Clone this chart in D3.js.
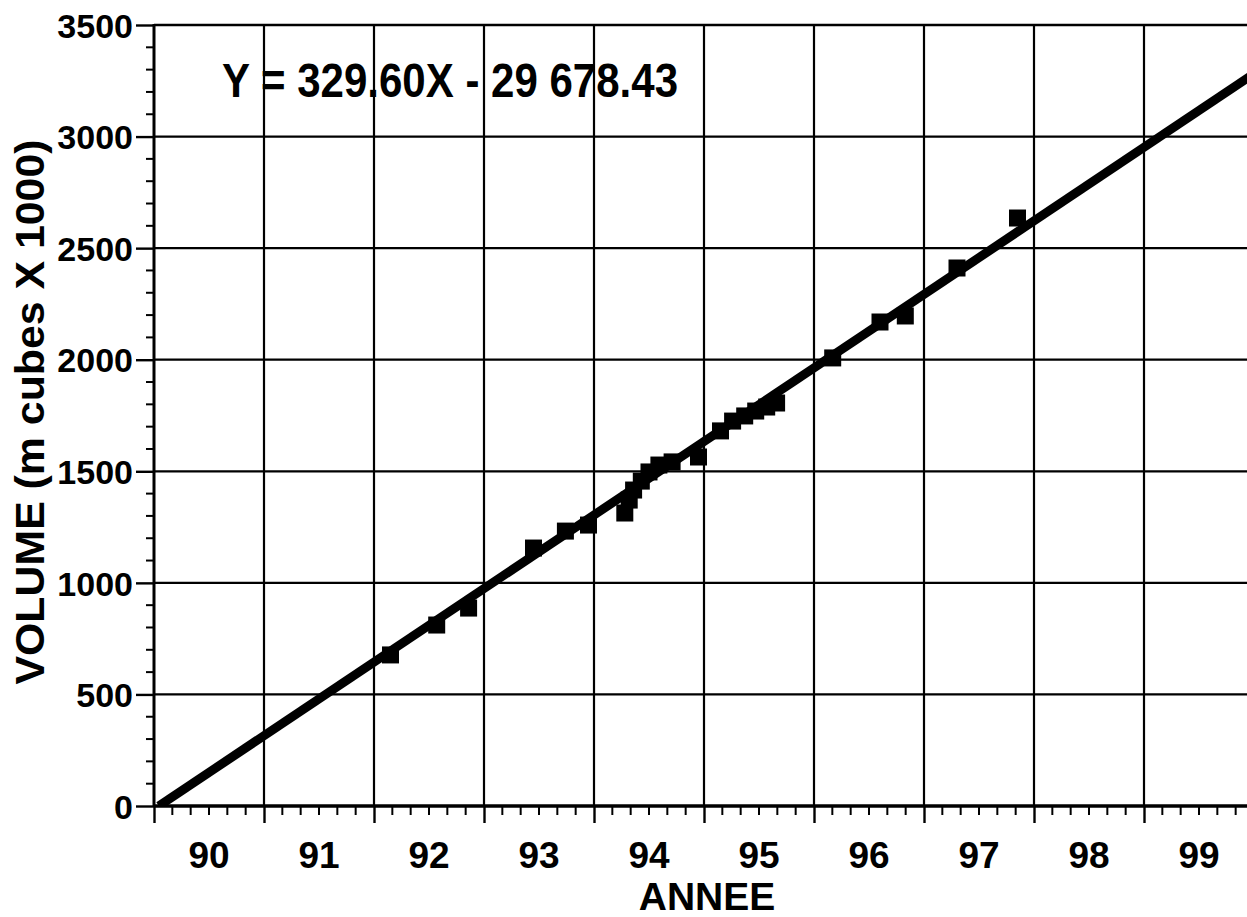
<!DOCTYPE html>
<html>
<head>
<meta charset="utf-8">
<script src="https://cdn.jsdelivr.net/npm/d3@7"></script>
<style>
  html, body { margin: 0; padding: 0; background: #fff; }
  svg { display: block; }
  text { font-family: "Liberation Sans", Arial, Helvetica, sans-serif; font-weight: bold; fill: #000; }
</style>
</head>
<body>
<svg id="chart" width="1247" height="917"></svg>
<script>
// Measured volumes (thousands of m³) by decimal year
const years = [92.15, 92.57, 92.86, 93.45, 93.74, 93.95, 94.28, 94.32, 94.36, 94.43,
               94.50, 94.59, 94.71, 94.95, 95.15, 95.26, 95.37, 95.47, 95.57, 95.66,
               96.17, 96.60, 96.83, 97.30, 97.85];
const volumes = [677, 811, 887, 1156, 1232, 1259, 1313, 1371, 1416, 1456,
                 1497, 1528, 1542, 1564, 1681, 1725, 1748, 1770, 1788, 1806,
                 2008, 2169, 2196, 2411, 2635];

// Linear fit shown in the chart
const slope = 329.60;
const intercept = -29678.43;
const equationLabel = "Y = 329.60X - 29 678.43";

// Axis ticks and labels
const yTicks = [0, 500, 1000, 1500, 2000, 2500, 3000, 3500];
const yearLabels = ["90", "91", "92", "93", "94", "95", "96", "97", "98", "99"];
const xTitle = "ANNEE";
const yTitle = "VOLUME (m cubes X 1000)";

const svg = d3.select("#chart");
const plotLeft = 154, plotRight = 1254, plotTop = 25, plotBottom = 806;

const x = d3.scaleLinear().domain([90, 100]).range([plotLeft, plotRight]);
const y = d3.scaleLinear().domain([0, 3500]).range([plotBottom, plotTop]);

// Grid
const grid = svg.append("g").attr("stroke", "#000").attr("stroke-width", 2.2);
grid.selectAll("line.v").data(d3.range(91, 100)).join("line")
  .attr("class", "v")
  .attr("x1", d => x(d)).attr("x2", d => x(d))
  .attr("y1", plotTop).attr("y2", plotBottom);
grid.selectAll("line.h").data(yTicks.filter(d => d > 0)).join("line")
  .attr("class", "h")
  .attr("x1", plotLeft).attr("x2", plotRight)
  .attr("y1", d => y(d)).attr("y2", d => y(d));

// Y axis with major and minor ticks
const yAxis = svg.append("g").attr("transform", `translate(${plotLeft},0)`);
yAxis.call(d3.axisLeft(y).tickValues(yTicks).tickSize(18).tickPadding(3).tickFormat(d3.format("d")));
yAxis.select(".domain").remove();
yAxis.selectAll(".tick line").attr("stroke", "#000").attr("stroke-width", 2.4);
yAxis.selectAll(".tick text")
  .attr("fill", "#000")
  .style("font-size", "34px")
  .attr("dy", "0.36em");
const yMinor = d3.range(0, 3500, 100).filter(d => d % 500 !== 0);
svg.append("g").selectAll("line").data(yMinor).join("line")
  .attr("x1", plotLeft - 8).attr("x2", plotLeft)
  .attr("y1", d => y(d)).attr("y2", d => y(d))
  .attr("stroke", "#000").attr("stroke-width", 2);
svg.append("line")
  .attr("x1", plotLeft).attr("x2", plotLeft).attr("y1", plotTop - 1).attr("y2", plotBottom + 1)
  .attr("stroke", "#000").attr("stroke-width", 3);

// X axis with year ticks, bimonthly minor ticks and centred year labels
const xAxis = svg.append("g").attr("transform", `translate(0,${plotBottom})`);
xAxis.call(d3.axisBottom(x).tickValues(d3.range(90, 101)).tickSize(17).tickFormat(""));
xAxis.select(".domain").remove();
xAxis.selectAll(".tick line").attr("stroke", "#000").attr("stroke-width", 2.4);
const xMinor = d3.range(90, 100, 1 / 6).filter(d => Math.abs(d - Math.round(d)) > 1e-6);
svg.append("g").selectAll("line").data(xMinor).join("line")
  .attr("x1", d => x(d)).attr("x2", d => x(d))
  .attr("y1", plotBottom).attr("y2", plotBottom + 9)
  .attr("stroke", "#000").attr("stroke-width", 2);
svg.append("line")
  .attr("x1", plotLeft).attr("x2", plotRight).attr("y1", plotBottom).attr("y2", plotBottom)
  .attr("stroke", "#000").attr("stroke-width", 3.5);
svg.append("line")
  .attr("x1", plotLeft).attr("x2", plotRight).attr("y1", plotTop).attr("y2", plotTop)
  .attr("stroke", "#000").attr("stroke-width", 2.4);

svg.append("g").selectAll("text").data(yearLabels).join("text")
  .attr("x", d => x(+d + 0.5))
  .attr("y", 868)
  .attr("text-anchor", "middle")
  .style("font-size", "37px")
  .text(d => d);

// Axis titles
svg.append("text")
  .attr("x", 707).attr("y", 910)
  .attr("text-anchor", "middle")
  .style("font-size", "39px")
  .text(xTitle);
svg.append("text")
  .attr("transform", "translate(44,412) rotate(-90)")
  .attr("text-anchor", "middle")
  .attr("textLength", 545)
  .attr("lengthAdjust", "spacingAndGlyphs")
  .style("font-size", "40px")
  .text(yTitle);

// Regression line, clipped to the plot area
svg.append("clipPath").attr("id", "plotClip")
  .append("rect").attr("x", plotLeft).attr("y", plotTop)
  .attr("width", plotRight - plotLeft).attr("height", plotBottom - plotTop);
const x0 = -intercept / slope;
const fitLine = [x0, 100].map(v => [v, slope * v + intercept]);
svg.append("path")
  .datum(fitLine)
  .attr("clip-path", "url(#plotClip)")
  .attr("fill", "none")
  .attr("stroke", "#000")
  .attr("stroke-width", 9)
  .attr("d", d3.line().x(d => x(d[0])).y(d => y(d[1])));

// Observations as filled squares
const size = 17;
svg.append("g").selectAll("rect").data(years.map((v, i) => [v, volumes[i]])).join("rect")
  .attr("x", d => x(d[0]) - size / 2)
  .attr("y", d => y(d[1]) - size / 2)
  .attr("width", size).attr("height", size)
  .attr("fill", "#000");

// Equation of the fitted line
svg.append("text")
  .attr("x", 222).attr("y", 97)
  .attr("textLength", 456)
  .attr("lengthAdjust", "spacingAndGlyphs")
  .style("font-size", "48px")
  .text(equationLabel);
</script>
</body>
</html>
